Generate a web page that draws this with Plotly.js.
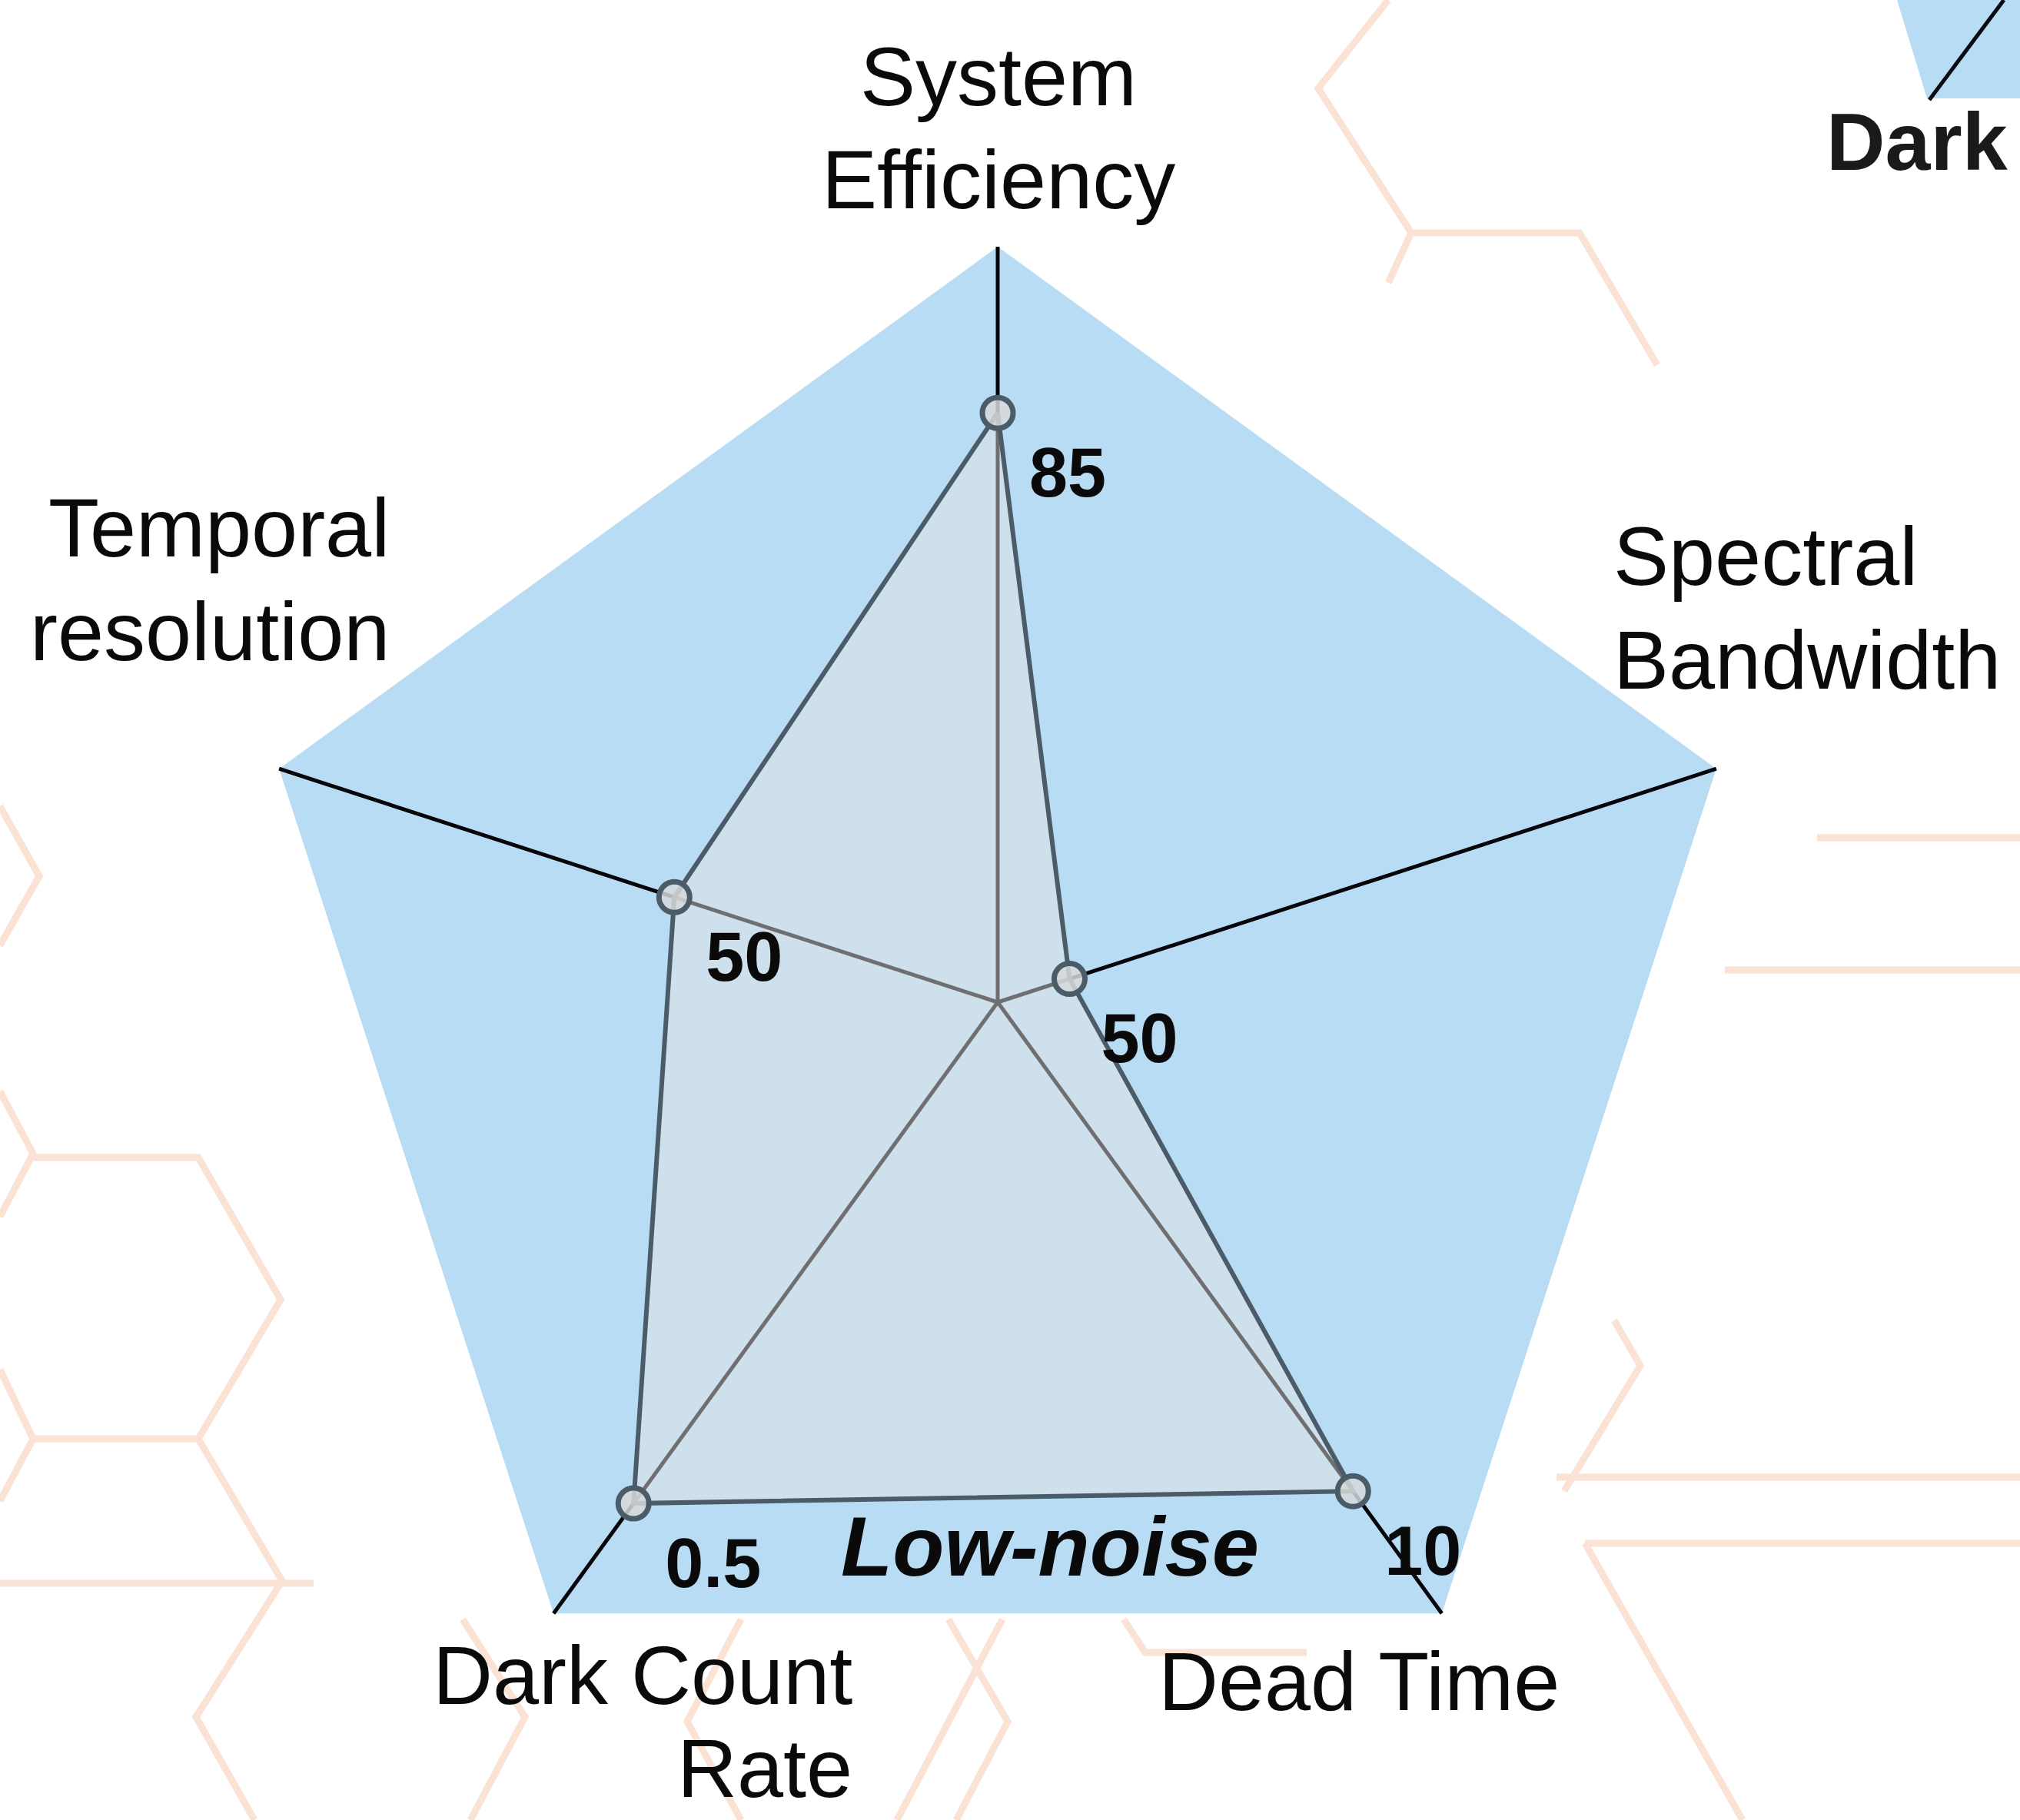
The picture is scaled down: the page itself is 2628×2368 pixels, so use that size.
<!DOCTYPE html>
<html>
<head>
<meta charset="utf-8">
<script src="https://cdn.plot.ly/plotly-3.0.1.min.js"></script>
<style>
  html, body { margin: 0; padding: 0; background: #ffffff; }
  #radar { width: 2628px; height: 2368px; }
</style>
</head>
<body>
<div id="radar"></div>
<script>
// detector figures of merit (clockwise from top)
var categories = ['System Efficiency', 'Spectral Bandwidth', 'Dead Time', 'Dark Count Rate', 'Temporal resolution'];
var axisLabelLines = [['System', 'Efficiency'], ['Spectral', 'Bandwidth'], ['Dead Time'], ['Dark Count', 'Rate'], ['Temporal', 'resolution']];
var scores = [78, 10, 80, 82, 45];          // normalised radar score, 0-100
var valueLabels = ['85', '50', '10', '0.5', '50'];

var W = 2628, H = 2368;
var cx = 1298, cy = 1304, R = 983;   // radar centre and outer radius in px
var FONT = 'Liberation Sans, Arial, sans-serif';

function px(x) { return x / W; }
function py(y) { return 1 - y / H; }

function pathFrom(points) {
    var s = '';
    for (var i = 0; i < points.length; i++) {
        s += (i === 0 ? 'M ' : ' L ') + px(points[i][0]) + ',' + py(points[i][1]);
    }
    return s;
}

// faint hexagon pattern of the page background (px)
var hexLines = [
    [[1806, 0], [1715, 115], [1836, 303], [2055, 303], [2156, 475]],
    [[1836, 303], [1806, 368]],
    [[0, 1049], [51, 1140], [0, 1230]],
    [[0, 1420], [43, 1501], [0, 1583]],
    [[43, 1506], [258, 1506], [365, 1691], [258, 1872], [43, 1872]],
    [[0, 1782], [43, 1872], [0, 1953]],
    [[258, 1872], [367, 2057], [255, 2234], [331, 2368]],
    [[0, 2060], [408, 2060]],
    [[602, 2107], [683, 2234], [612, 2368]],
    [[964, 2107], [894, 2240], [964, 2368]],
    [[1234, 2107], [1311, 2240], [1244, 2368]],
    [[1304, 2107], [1167, 2368]],
    [[1462, 2107], [1490, 2150], [1700, 2150]],
    [[2364, 1090], [2628, 1090]],
    [[2244, 1262], [2628, 1262]],
    [[2100, 1718], [2134, 1777], [2035, 1940]],
    [[2025, 1922], [2628, 1922]],
    [[2062, 2008], [2628, 2008]],
    [[2062, 2008], [2267, 2368]]
];

var shapes = [];
for (var i = 0; i < hexLines.length; i++) {
    shapes.push({
        type: 'path', xref: 'paper', yref: 'paper', layer: 'below',
        path: pathFrom(hexLines[i]),
        line: { color: '#fae2d5', width: 9 }
    });
}
// corner of the neighbouring chart
shapes.push({
    type: 'path', xref: 'paper', yref: 'paper', layer: 'above',
    path: pathFrom([[2468, 0], [2507, 128], [2628, 128], [2628, 0]]) + ' Z',
    fillcolor: '#b8dcf3', line: { width: 0 }
});
shapes.push({
    type: 'line', xref: 'paper', yref: 'paper', layer: 'above',
    x0: px(2607), y0: py(0), x1: px(2510), y1: py(130),
    line: { color: '#0a0a14', width: 5 }
});

var outline = {
    type: 'scatterpolar',
    theta: categories.concat([categories[0]]),
    r: scores.concat([scores[0]]),
    mode: 'lines',
    fill: 'toself',
    fillcolor: 'rgba(232,230,228,0.47)',
    line: { color: '#4b5c68', width: 6 },
    hoverinfo: 'skip'
};

var points = {
    type: 'scatterpolar',
    theta: categories,
    r: scores,
    mode: 'markers',
    marker: {
        size: 40,
        color: 'rgba(214,216,218,0.85)',
        line: { color: '#4b5c68', width: 7 }
    }
};

// value labels; the clear marker only sets how far the text sits from the point
var values = {
    type: 'scatterpolar',
    theta: categories,
    r: scores,
    mode: 'markers+text',
    text: valueLabels,
    textposition: 'bottom right',
    textfont: { family: FONT, size: 90, weight: 'bold', color: '#0a0a0a' },
    marker: { size: 64, color: 'rgba(0,0,0,0)' }
};

// axis labels placed by hand around the pentagon (px, first line centre)
var labelPos = [
    { x: 1299, y: 100, xanchor: 'center' },
    { x: 2098, y: 724, xanchor: 'left' },
    { x: 1768, y: 2187, xanchor: 'center' },
    { x: 1110, y: 2179, xanchor: 'right' },
    { x: 508, y: 687, xanchor: 'right' }
];
var linePitch = 134;

var annotations = [];
for (var k = 0; k < axisLabelLines.length; k++) {
    for (var j = 0; j < axisLabelLines[k].length; j++) {
        annotations.push({
            xref: 'paper', yref: 'paper',
            x: px(labelPos[k].x), y: py(labelPos[k].y + j * linePitch),
            xanchor: labelPos[k].xanchor, yanchor: 'middle', borderpad: 0,
            text: axisLabelLines[k][j], showarrow: false,
            font: { family: FONT, size: 108, color: '#0a0a0a' }
        });
    }
}
// keep the last line of the bottom-left label inside the page
annotations[annotations.length - 3].y = py(2300);

annotations.push({
    xref: 'paper', yref: 'paper', x: px(1366), y: py(2011),
    xanchor: 'center', yanchor: 'middle', showarrow: false,
    text: 'Low-noise',
    font: { family: FONT, size: 110, weight: 'bold', style: 'italic', color: '#0a0a0a' }
});
annotations.push({
    xref: 'paper', yref: 'paper', x: px(2374), y: py(184),
    xanchor: 'left', yanchor: 'middle', showarrow: false,
    text: 'Dark',
    font: { family: FONT, size: 106, weight: 'bold', color: '#1a1a1a' }
});

var layout = {
    width: W,
    height: H,
    margin: { l: 0, r: 0, t: 0, b: 0, pad: 0 },
    paper_bgcolor: '#ffffff',
    showlegend: false,
    font: { family: FONT, color: '#0a0a0a' },
    polar: {
        domain: {
            x: [px(cx - R), px(cx + R)],
            y: [py(cy + R), py(cy - R)]
        },
        gridshape: 'linear',
        bgcolor: '#b8dcf3',
        radialaxis: { visible: false, range: [0, 100] },
        angularaxis: {
            direction: 'clockwise',
            rotation: 90,
            showline: false,
            ticks: '',
            showticklabels: false,
            showgrid: true,
            gridcolor: '#05050a',
            gridwidth: 5
        }
    },
    shapes: shapes,
    annotations: annotations
};

Plotly.newPlot('radar', [outline, points, values], layout, { staticPlot: true });
</script>
</body>
</html>
